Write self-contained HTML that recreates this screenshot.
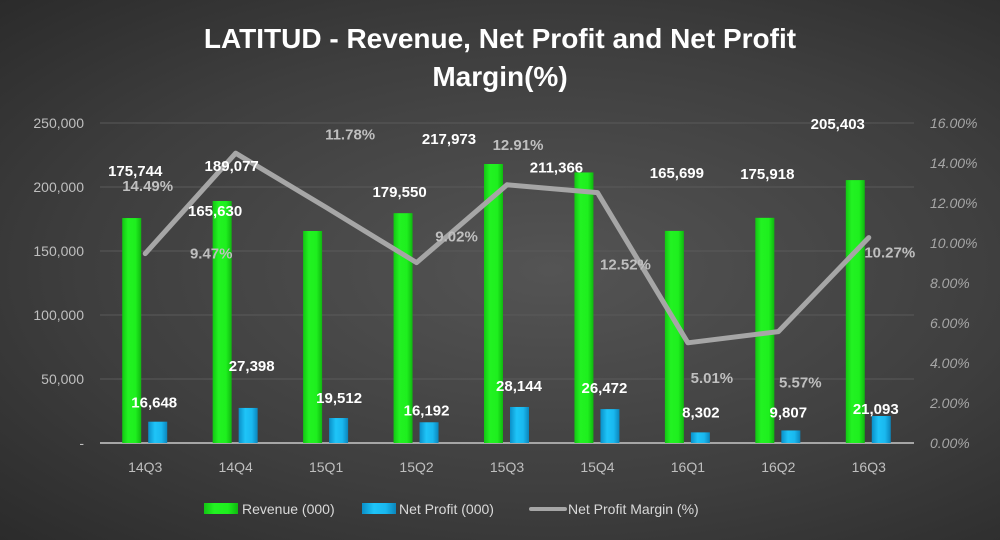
<!DOCTYPE html>
<html><head><meta charset="utf-8"><style>
html,body{margin:0;padding:0;width:1000px;height:540px;overflow:hidden}
body{background:radial-gradient(ellipse at 55% 50%,#545454 0%,#3e3e3e 60%,#2b2b2b 100%);font-family:"Liberation Sans",sans-serif}
svg text{font-family:"Liberation Sans",sans-serif}
</style></head><body>
<svg id="c" width="1000" height="540">
<defs>
<linearGradient id="gg" x1="0" x2="1"><stop offset="0" stop-color="#13c613"/><stop offset=".3" stop-color="#22f222"/><stop offset=".7" stop-color="#1ef01e"/><stop offset="1" stop-color="#10b810"/></linearGradient>
<linearGradient id="bg" x1="0" x2="1"><stop offset="0" stop-color="#0a8fc8"/><stop offset=".35" stop-color="#1ec4f8"/><stop offset=".7" stop-color="#19b8ef"/><stop offset="1" stop-color="#0b85bb"/></linearGradient>
</defs>
<text x="500" y="48" text-anchor="middle" fill="#fff" font-size="28" font-weight="bold">LATITUD - Revenue, Net Profit and Net Profit</text>
<text x="500" y="86" text-anchor="middle" fill="#fff" font-size="28" font-weight="bold">Margin(%)</text>
<g id="grid"></g><g id="marks"></g><g id="labels"></g>
<g>
<rect x="204" y="503" width="34" height="11" fill="url(#gg)"/>
<text x="242" y="514" fill="#d9d9d9" font-size="14">Revenue (000)</text>
<rect x="362" y="503" width="34" height="11" fill="url(#bg)"/>
<text x="399" y="514" fill="#d9d9d9" font-size="14">Net Profit  (000)</text>
<line x1="531" y1="509" x2="565" y2="509" stroke="#a6a6a6" stroke-width="4" stroke-linecap="round"/>
<text x="568" y="514" fill="#d9d9d9" font-size="14">Net Profit Margin (%)</text>
</g>
</svg>
<script>
const categories=["14Q3","14Q4","15Q1","15Q2","15Q3","15Q4","16Q1","16Q2","16Q3"];
const revenue=[175744,189077,165630,179550,217973,211366,165699,175918,205403];
const netProfit=[16648,27398,19512,16192,28144,26472,8302,9807,21093];
const margin=[9.47,14.49,11.78,9.02,12.91,12.52,5.01,5.57,10.27];
const leftTicks=[0,50000,100000,150000,200000,250000];
const rightTicks=[0,2,4,6,8,10,12,14,16];
const NS="http://www.w3.org/2000/svg";
const X0=100,X1=914,Y0=443,Y1=123;
const step=(X1-X0)/categories.length;
const cx=i=>X0+step*(i+0.5);
const yL=v=>Y0-(v/250000)*(Y0-Y1);
const yR=v=>Y0-(v/16)*(Y0-Y1);
const fmt=v=>v.toLocaleString("en-US");
function mk(tag,attrs,parent){const e=document.createElementNS(NS,tag);for(const k in attrs)e.setAttribute(k,attrs[k]);parent.appendChild(e);return e;}
const grid=document.getElementById("grid"),marks=document.getElementById("marks"),labels=document.getElementById("labels");
leftTicks.forEach((t,i)=>{
  if(i>0){const g=mk("line",{x1:X0,x2:X1,y1:yL(t),y2:yL(t),stroke:"#5a5a5a","stroke-width":1},grid);
  
  }
  const tx=mk("text",{x:84,y:yL(t)+5,"text-anchor":"end",fill:"#bfbfbf","font-size":14},grid);
  tx.textContent=t===0?"-":fmt(t);
  
  
});
rightTicks.forEach(t=>{
  const tx=mk("text",{x:930,y:yR(t)+5,fill:"#a6a6a6","font-size":14,"font-style":"italic"},grid);
  tx.textContent=t.toFixed(2)+"%";
  
  
});
const ax=mk("line",{x1:X0,x2:X1,y1:Y0,y2:Y0,stroke:"#a6a6a6","stroke-width":2},grid);


categories.forEach((c,i)=>{
  const tx=mk("text",{x:cx(i),y:472,"text-anchor":"middle",fill:"#bfbfbf","font-size":14},grid);
  tx.textContent=c;
  
  
  const r=mk("rect",{x:cx(i)-23,y:yL(revenue[i]),width:19,height:Y0-yL(revenue[i]),fill:"url(#gg)"},marks);
  
  
  const b=mk("rect",{x:cx(i)+3,y:yL(netProfit[i]),width:19,height:Y0-yL(netProfit[i]),fill:"url(#bg)"},marks);
  
  
});
const pl=mk("polyline",{points:margin.map((m,i)=>cx(i)+","+yR(m)).join(" "),fill:"none",stroke:"#a6a6a6","stroke-width":5,"stroke-linejoin":"round","stroke-linecap":"round"},marks);


// label offsets relative to marks (layout only): label center = mark point + offset
const revOff=[[-10,-47],[-4,-35],[-111,-20],[-17,-21],[-58,-25],[-41,-5],[-11,-58],[-11,-44],[-31,-56]];
const npOff=[[9,-19],[16,-42],[13,-20],[10,-12],[12,-21],[7,-21],[13,-20],[10,-18],[7,-7]];
const mgOff=[[66,0],[-88,33],[24,-73],[40,-26],[11,-40],[28,72],[24,35],[22,51],[21,15]];
function lab(x,y,txt,col,name){const t=mk("text",{x:x,y:y+5,"text-anchor":"middle",fill:col,"font-size":15,"font-weight":"bold"},labels);t.textContent=txt;

}
categories.forEach((c,i)=>{
  lab(cx(i)+revOff[i][0],yL(revenue[i])+revOff[i][1],fmt(revenue[i]),"#fff","label-revenue-"+c);
  lab(cx(i)+npOff[i][0],yL(netProfit[i])+npOff[i][1],fmt(netProfit[i]),"#fff","label-net-profit-"+c);
  lab(cx(i)+mgOff[i][0],yR(margin[i])+mgOff[i][1],margin[i].toFixed(2)+"%","#bfbfbf","label-margin-"+c);
});
</script>
</body></html>
